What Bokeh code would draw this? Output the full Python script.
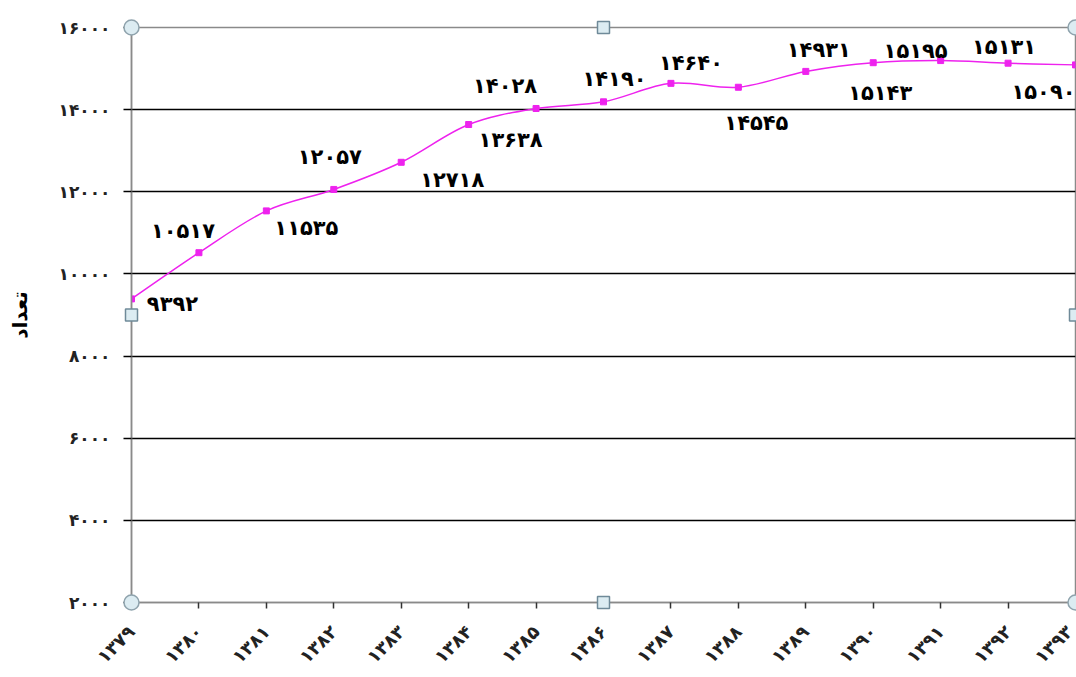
import numpy as np
from math import pi
from bokeh.plotting import figure
from bokeh.models import FixedTicker, Range1d, ColumnDataSource
from bokeh.embed import file_html
from bokeh.resources import INLINE
from bokeh.core.properties import value

years = ["۱۳۷۹", "۱۳۸۰", "۱۳۸۱", "۱۳۸۲", "۱۳۸۳", "۱۳۸۴", "۱۳۸۵", "۱۳۸۶",
         "۱۳۸۷", "۱۳۸۸", "۱۳۸۹", "۱۳۹۰", "۱۳۹۱", "۱۳۹۲", "۱۳۹۳"]
counts = [9392, 10517, 11535, 12057, 12718, 13638, 14028, 14190,
          14640, 14545, 14931, 15143, 15195, 15131, 15090]
count_labels = ["۹۳۹۲", "۱۰۵۱۷", "۱۱۵۳۵", "۱۲۰۵۷", "۱۲۷۱۸", "۱۳۶۳۸", "۱۴۰۲۸", "۱۴۱۹۰",
                "۱۴۶۴۰", "۱۴۵۴۵", "۱۴۹۳۱", "۱۵۱۴۳", "۱۵۱۹۵", "۱۵۱۳۱", "۱۵۰۹۰"]
y_ticks = [2000, 4000, 6000, 8000, 10000, 12000, 14000, 16000]
y_tick_labels = ["۲۰۰۰", "۴۰۰۰", "۶۰۰۰", "۸۰۰۰", "۱۰۰۰۰", "۱۲۰۰۰", "۱۴۰۰۰", "۱۶۰۰۰"]
y_title = "تعداد"

# label placement (screen pixel offsets, style only)
lab_dx = [41, -16, 40, -4, 51, 42, -31, 11, 20, 18, 13, 7, -25, -4, -32]
lab_dy = [5, -22, 17, -32, 18, 15, -22, -23, -20, 36, -21, 30, -10, -16, 27]

FONT = "DejaVu Sans"
MAG = "#ee22ee"

xs = np.arange(len(counts), dtype=float)
ys = np.array(counts, dtype=float)

p = figure(width=1076, height=677,
           x_range=Range1d(0, len(counts) - 1), y_range=Range1d(y_ticks[0], y_ticks[-1]),
           output_backend="svg", toolbar_location=None,
           min_border_left=131, min_border_right=1, min_border_top=27, min_border_bottom=74,
           background_fill_color="white", border_fill_color="white")

p.outline_line_color = "#8a8a8a"
p.outline_line_width = 1.5

# axes
p.xaxis.ticker = FixedTicker(ticks=list(range(len(years))))
p.xaxis.major_label_overrides = {i: years[i] for i in range(len(years))}
p.xaxis.major_label_orientation = pi / 4
p.xaxis.major_label_text_font = FONT
p.xaxis.major_label_text_font_style = "bold"
p.xaxis.major_label_text_font_size = "18px"
p.xaxis.major_label_text_color = "#222222"
p.xaxis.major_label_standoff = 20
p.xaxis.axis_line_color = "#8a8a8a"
p.xaxis.axis_line_width = 1.5
p.xaxis.major_tick_line_color = "#333333"
p.xaxis.major_tick_line_width = 1.5
p.xaxis.major_tick_out = 6
p.xaxis.major_tick_in = 0
p.xaxis.minor_tick_line_color = None

p.yaxis.ticker = FixedTicker(ticks=y_ticks)
p.yaxis.major_label_overrides = {t: l for t, l in zip(y_ticks, y_tick_labels)}
p.yaxis.major_label_text_font = FONT
p.yaxis.major_label_text_font_style = "bold"
p.yaxis.major_label_text_font_size = "17px"
p.yaxis.major_label_text_color = "#222222"
p.yaxis.major_label_standoff = 13
p.yaxis.major_label_orientation = "horizontal"
p.yaxis.axis_line_color = "#8a8a8a"
p.yaxis.axis_line_width = 1.5
p.yaxis.major_tick_line_color = "black"
p.yaxis.major_tick_line_width = 1.5
p.yaxis.major_tick_out = 8
p.yaxis.major_tick_in = 0
p.yaxis.minor_tick_line_color = None
p.yaxis.axis_label = y_title
p.yaxis.axis_label_text_font = FONT
p.yaxis.axis_label_text_font_style = "bold"
p.yaxis.axis_label_text_font_size = "20px"
p.yaxis.axis_label_text_color = "black"
p.yaxis.axis_label_standoff = 24

p.xgrid.grid_line_color = None
p.ygrid.grid_line_color = "black"
p.ygrid.grid_line_width = 1.5

# smoothed line (Catmull-Rom -> cubic Bezier) through the data points
xp = np.concatenate([[xs[0]], xs, [xs[-1]]])
yp = np.concatenate([[ys[0]], ys, [ys[-1]]])
t = 1.0 / 6.0
bez = dict(
    x0=xs[:-1], y0=ys[:-1], x1=xs[1:], y1=ys[1:],
    cx0=xs[:-1] + (xp[2:-1] - xp[:-3]) * t,
    cy0=ys[:-1] + (yp[2:-1] - yp[:-3]) * t,
    cx1=xs[1:] - (xp[3:] - xp[1:-2]) * t,
    cy1=ys[1:] - (yp[3:] - yp[1:-2]) * t,
)
p.bezier(x0="x0", y0="y0", x1="x1", y1="y1", cx0="cx0", cy0="cy0", cx1="cx1", cy1="cy1",
         source=ColumnDataSource(bez), line_color=MAG, line_width=1.5)

src = ColumnDataSource(dict(x=xs, y=ys, lab=count_labels, dx=lab_dx, dy=lab_dy))
p.scatter("x", "y", source=src, marker="square", size=6, fill_color=MAG, line_color=MAG)
p.text("x", "y", text="lab", source=src, x_offset="dx", y_offset="dy",
       text_align="center", text_baseline="middle",
       text_font=value(FONT), text_font_style="bold", text_font_size="21px",
       text_color="black")

# selection handles of the embedded chart object
n = len(counts) - 1
ymid = (y_ticks[0] + y_ticks[-1]) / 2
hc = ColumnDataSource(dict(x=[0, n, 0, n], y=[y_ticks[-1], y_ticks[-1], y_ticks[0], y_ticks[0]]))
hs = ColumnDataSource(dict(x=[n / 2, 0, n, n / 2], y=[y_ticks[-1], ymid, ymid, y_ticks[0]]))
p.scatter("x", "y", source=hc, marker="circle", size=15, fill_color="#dcecf2",
          line_color="#8fa3ad", line_width=1.5, level="overlay")
p.scatter("x", "y", source=hs, marker="square", size=12, fill_color="#dcecf2",
          line_color="#6f8a99", line_width=1.5, level="overlay")

open("out.html", "w").write(file_html(p, INLINE))
